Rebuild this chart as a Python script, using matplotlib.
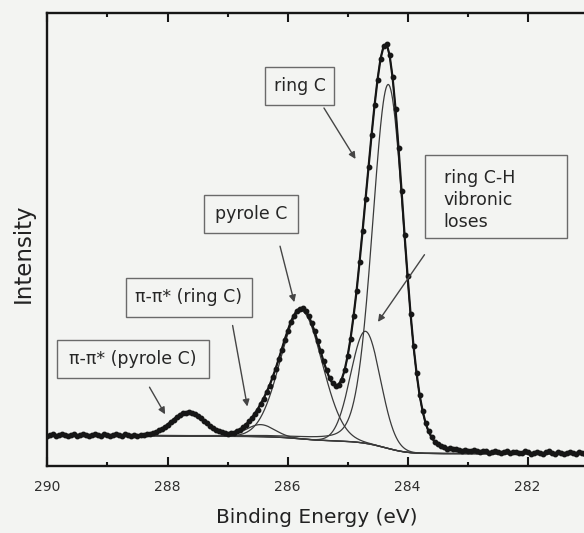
import numpy as np
import matplotlib
matplotlib.use('Agg')
import matplotlib.pyplot as plt
from matplotlib.patches import Rectangle
from matplotlib.ticker import MultipleLocator, FormatStrFormatter

# C 1s spectrum, one value every 0.05 eV from 281.00 eV upwards
start_energy = 281.0
energy_step = 0.05
counts = [
    13.6, 12.4, 13.9, 14.5, 12.8, 13.2, 14.8, 13.5, 12.6, 13.9,
    14.3, 12.9, 13.4, 15.0, 14.1, 12.7, 13.8, 14.6, 13.3, 12.9,
    14.4, 15.1, 13.6, 13.0, 14.7, 14.2, 13.4, 15.3, 14.8, 13.7,
    14.2, 15.6, 14.4, 13.9, 15.2, 15.8, 14.6, 15.5, 16.1, 15.0,
    15.9, 16.8, 15.9, 16.9, 17.4,
    17.3, 18.2, 17.9, 19.6, 20.4, 22.6, 24.8, 29.3, 35.2, 43.4,
    55.9, 71.6, 93.4, 120.1, 152.6, 190.8,
    231.5, 275.6, 318.0, 357.4, 389.3, 411.5, 422.8, 420.1, 407.9, 387.0,
    361.2, 331.4, 299.8, 267.5, 235.1, 204.6, 175.3, 150.4, 127.9, 110.1,
    96.0, 86.8, 81.9, 80.4, 83.1, 88.2, 96.4, 105.0, 115.6, 125.2,
    135.3, 143.5, 150.9, 155.3, 158.4, 157.9, 155.6, 150.4, 144.1, 135.3,
    126.5, 116.4, 107.0, 97.4, 89.2, 80.9, 74.5, 67.8, 62.6, 56.9,
    52.8, 48.1, 45.0, 41.2, 39.1, 36.4, 35.5, 33.8, 33.7, 32.6,
    33.9, 34.0, 35.4, 36.2, 38.8, 40.5, 43.4, 45.6, 48.6, 50.5,
    52.9, 53.6, 54.8, 53.9, 53.6, 51.3, 49.8, 46.7, 44.6, 41.6,
    39.9, 37.3, 36.0, 34.2, 33.6, 32.3, 32.4, 31.4, 31.8, 30.9,
    31.6, 30.4, 31.9, 32.3, 30.8, 31.1, 32.6, 31.4, 30.2, 31.7,
    32.1, 30.6, 31.3, 32.8, 31.9, 30.5, 31.6, 32.4, 31.0, 30.7,
    32.2, 31.5, 30.3, 31.8, 32.5, 31.2, 30.6, 32.0, 31.4, 30.9,
]

# fitted components: pi-pi* (pyrole C), pi-pi* (ring C), pyrole C, ring C-H, ring C
peak_centers = [287.66, 286.45, 285.77, 284.70, 284.32]
peak_heights = [23.5, 12.0, 128.0, 112.0, 364.0]
peak_fwhm = [0.64, 0.55, 0.82, 0.58, 0.62]
peak_lorentz = [0.0, 0.0, 0.0, 0.0, 0.15]

# Shirley background end points (low / high binding energy side)
bg_low = 12.8
bg_high = 30.8

box_texts = ['ring C', 'ring C-H\nvibronic\nloses', 'pyrole C',
             u'\u03c0-\u03c0* (ring C)', u'\u03c0-\u03c0* (pyrole C)']


def line_shape(e, center, height, fwhm, eta):
    sigma = fwhm / 2.3548
    gamma = fwhm / 2.0
    g = np.exp(-(e - center) ** 2 / (2 * sigma ** 2))
    l = 1.0 / (1.0 + ((e - center) / gamma) ** 2)
    return height * ((1 - eta) * g + eta * l)


binding_energy = np.round(start_energy + energy_step * np.arange(len(counts)), 2)

e_fit = np.linspace(281.0, 290.0, 1801)
peaks = [line_shape(e_fit, c, h, w, m)
         for c, h, w, m in zip(peak_centers, peak_heights, peak_fwhm, peak_lorentz)]
peak_sum = np.sum(peaks, axis=0)
area = np.cumsum(peak_sum)
background = bg_low + (bg_high - bg_low) * area / area[-1]
envelope = background + peak_sum

paper = '#f3f4f2'
ink = '#161616'
fit_col = '#3a3a3a'

fig = plt.figure(figsize=(5.84, 5.33), dpi=100, facecolor=paper)
ax = fig.add_axes([0.0813, 0.1248, 0.9187, 0.8508], facecolor=paper)

ax.plot(e_fit, background, color=fit_col, lw=1.0, zorder=2)
for p in peaks:
    ax.plot(e_fit, background + p, color=fit_col, lw=0.9, zorder=2)
ax.plot(e_fit, envelope, color=fit_col, lw=0.9, zorder=2)
ax.plot(binding_energy, counts, color=ink, lw=1.6, marker='o', ms=3.2,
        mec=ink, mfc=ink, zorder=3)

ax.set_xlim(290, 281.06)
ax.set_ylim(0, 453.5)
ax.set_yticks([])
ax.xaxis.set_major_locator(MultipleLocator(2))
ax.xaxis.set_minor_locator(MultipleLocator(1))
ax.xaxis.set_major_formatter(FormatStrFormatter('%d'))
ax.tick_params(axis='x', which='both', direction='in', top=True, bottom=True,
               width=1.5, color=ink)
ax.tick_params(axis='x', which='major', length=6.5, pad=9.5, labelsize=10,
               labelcolor='#2e2e2e')
ax.tick_params(axis='x', which='minor', length=3.2)
for side in ['left', 'top', 'bottom']:
    ax.spines[side].set_linewidth(1.7)
    ax.spines[side].set_color(ink)
ax.spines['right'].set_visible(False)

ax.set_xlabel('Binding Energy (eV)', fontsize=14.5, color='#222222')
ax.xaxis.set_label_coords(0.502, -0.0915)
ax.set_ylabel('Intensity', fontsize=16.5, color='#222222', va='center')
ax.yaxis.set_label_coords(-0.045, 0.4708)

# label boxes: (high eV edge, low eV edge, bottom, top), text anchor
boxes = [
    ((286.372, 285.222, 361.9, 399.6), (285.797, 381.0), 'center'),
    ((283.705, 281.343, 228.8, 311.0), (283.397, 266.5), 'left'),
    ((287.388, 285.827, 233.5, 271.9), (286.605, 252.5), 'center'),
    ((288.698, 286.588, 149.7, 188.7), (287.643, 169.5), 'center'),
    ((289.845, 287.315, 88.9, 126.9), (288.580, 107.9), 'center'),
]
arrows = [
    ((285.393, 358.5), (284.867, 307.5)),
    ((283.718, 211.8), (284.493, 144.6)),
    ((286.125, 220.3), (285.888, 164.3)),
    ((286.915, 141.0), (286.670, 60.0)),
    ((288.300, 79.3), (288.040, 52.2)),
]

for (hi, lo, b, t), (tx, ty), ha in boxes:
    ax.add_patch(Rectangle((lo, b), hi - lo, t - b, fill=False,
                           ec='#6a6a6a', lw=1.0, zorder=4))
for text, (_, (tx, ty), ha) in zip(box_texts, boxes):
    ax.text(tx, ty, text, ha=ha, va='center', fontsize=12.5,
            color='#262626', linespacing=1.3, zorder=5)
for start, tip in arrows:
    ax.annotate('', xy=tip, xytext=start,
                arrowprops=dict(arrowstyle='-|>', color='#454545', lw=1.0,
                                mutation_scale=10, shrinkA=0, shrinkB=0),
                zorder=5)

fig.savefig('out.png', dpi=100, facecolor=paper)
